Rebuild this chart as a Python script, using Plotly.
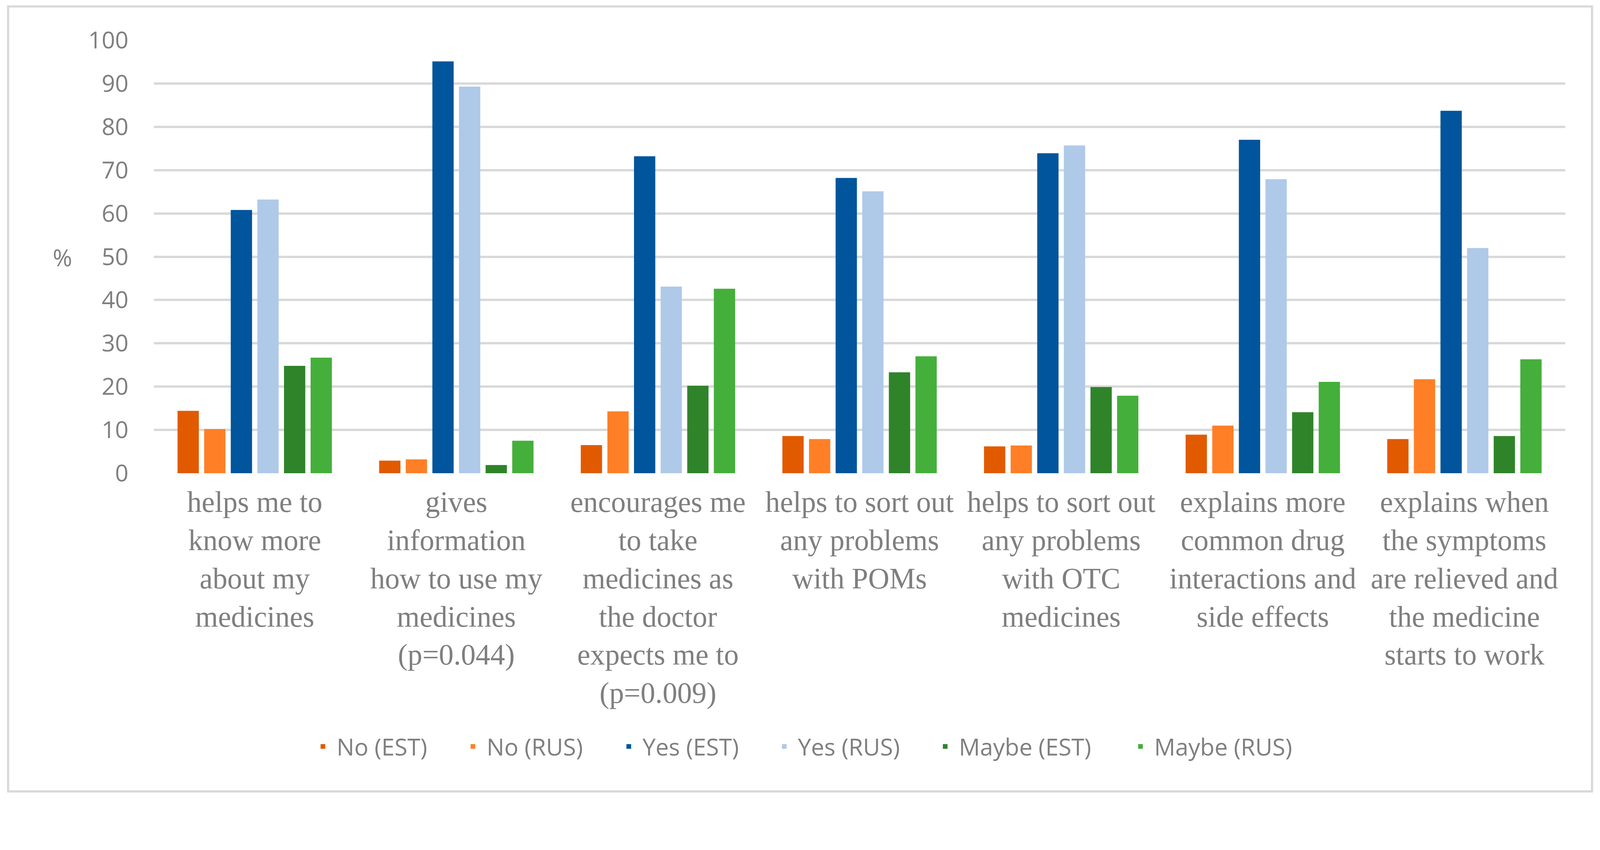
import plotly.graph_objects as go

categories = [
    "helps me to<br>know more<br>about my<br>medicines",
    "gives<br>information<br>how to use my<br>medicines<br>(p=0.044)",
    "encourages me<br>to take<br>medicines as<br>the doctor<br>expects me to<br>(p=0.009)",
    "helps to sort out<br>any problems<br>with POMs",
    "helps to sort out<br>any problems<br>with OTC<br>medicines",
    "explains more<br>common drug<br>interactions and<br>side effects",
    "explains when<br>the symptoms<br>are relieved and<br>the medicine<br>starts to work",
]

no_est = [14.4, 2.9, 6.5, 8.6, 6.2, 8.9, 7.9]
no_rus = [10.2, 3.2, 14.3, 7.9, 6.4, 11.0, 21.7]
yes_est = [60.8, 95.1, 73.2, 68.2, 73.9, 77.0, 83.7]
yes_rus = [63.2, 89.3, 43.1, 65.1, 75.7, 67.9, 52.0]
maybe_est = [24.8, 1.9, 20.2, 23.3, 19.9, 14.1, 8.6]
maybe_rus = [26.7, 7.5, 42.6, 27.0, 17.9, 21.1, 26.3]

series_names = ["No (EST)", "No (RUS)", "Yes (EST)", "Yes (RUS)", "Maybe (EST)", "Maybe (RUS)"]
series_values = [no_est, no_rus, yes_est, yes_rus, maybe_est, maybe_rus]
series_colors = ["#E15A00", "#FF7F27", "#01559C", "#AFC9E9", "#2F842A", "#45AF3B"]

y_ticks = [0, 10, 20, 30, 40, 50, 60, 70, 80, 90, 100]

# page geometry: the page is laid out in a ~4096 px wide viewport (body margin 8 px)
S = 4096 / 4357
OFF = 8
W_f = 4096 - 2 * OFF
H_f = round(2177 * S) - 2 * OFF

# plot area in reference pixels
RL, RR, RT, RB = 419, 4262, 110, 1290
L = round(RL * S - OFF)
T = round(RT * S - OFF)
pw = round((RR - RL) * S)
ph = round((RB - RT) * S)
R = W_f - L - pw
B = H_f - T - ph

def px_x(p):
    return (p - RL) / (RR - RL)

def px_y(p):
    return (RB - p) / (RB - RT)

def sz(v):
    return v * S

# legend entry pitch (reference px) -> per-trace legend widths
ITEMW = 60
legend_pitch_ref = [408, 424, 423, 438, 532, 460]
legend_widths = [max(10, round(p * S - (ITEMW + 15))) for p in legend_pitch_ref]

fig = go.Figure()
for name, vals, col, lw in zip(series_names, series_values, series_colors, legend_widths):
    fig.add_trace(go.Bar(x=categories, y=vals, name=name, legendwidth=lw,
                         marker=dict(color=col, line=dict(width=0))))

gray = "#7F7F7F"
fig.update_layout(
    width=W_f, height=H_f,
    margin=dict(l=L, r=R, t=T, b=B, autoexpand=False),
    paper_bgcolor="white", plot_bgcolor="white",
    barmode="group", bargap=0.208, bargroupgap=0.2,
    showlegend=True,
    legend=dict(orientation="h", x=px_x(842), xanchor="left", y=px_y(2035), yanchor="middle",
                font=dict(family="Open Sans", size=sz(64), color=gray), itemwidth=ITEMW,
                bgcolor="rgba(0,0,0,0)"),
    font=dict(family="Open Sans", color=gray),
)
fig.update_yaxes(range=[0, 100], tickvals=y_ticks, showgrid=True, gridcolor="#D9D9D9", gridwidth=sz(6),
                 zeroline=False, showline=False, ticks="", ticklabelstandoff=round(sz(68)),
                 tickfont=dict(family="Open Sans", size=sz(64), color=gray), fixedrange=True)
fig.update_xaxes(showgrid=False, showline=False, ticks="", zeroline=False,
                 tickfont=dict(family="Liberation Serif", size=sz(80), color=gray), tickangle=0,
                 ticklabelstandoff=round(sz(24)))

fig.add_annotation(text="%", xref="paper", yref="paper", x=px_x(170), y=px_y(702),
                   xanchor="center", yanchor="middle", showarrow=False,
                   font=dict(family="Open Sans", size=sz(64), color=gray))

fig.add_shape(type="rect", xref="paper", yref="paper",
              x0=px_x(22), x1=px_x(4335), y0=px_y(2157), y1=px_y(18),
              line=dict(color="#D9D9D9", width=sz(6)), fillcolor="rgba(0,0,0,0)", layer="below")

fig.write_html("out.html")
